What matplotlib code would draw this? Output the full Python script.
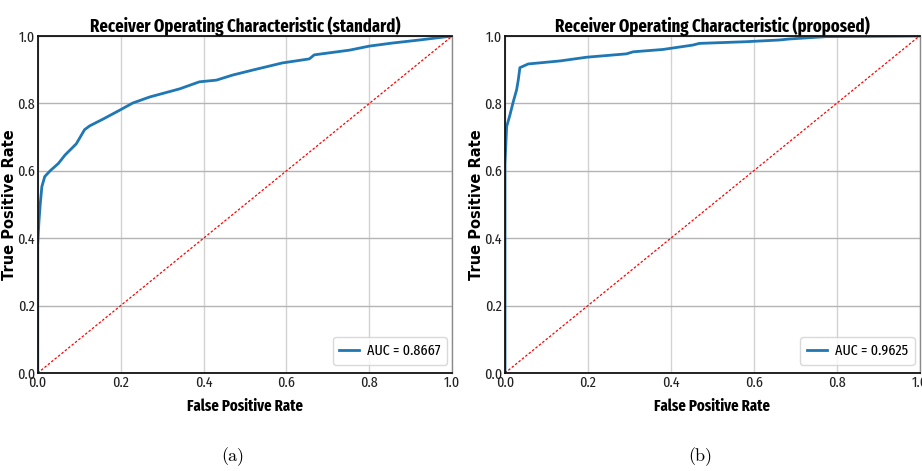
import matplotlib
matplotlib.use("Agg")
import matplotlib.pyplot as plt
from matplotlib import font_manager


# ---------------------------------------------------------------------------
# datos
# ---------------------------------------------------------------------------
fpr_standard = [0.0, 0.0, 0.003, 0.006, 0.010, 0.017, 0.030, 0.050, 0.066,
                0.093, 0.113, 0.125, 0.160, 0.198, 0.229, 0.270, 0.342,
                0.390, 0.431, 0.470, 0.519, 0.590, 0.655, 0.667, 0.752,
                0.800, 0.855, 0.920, 1.0]
tpr_standard = [0.0, 0.38, 0.45, 0.50, 0.553, 0.583, 0.600, 0.622, 0.647,
                0.680, 0.722, 0.733, 0.755, 0.780, 0.801, 0.819, 0.843,
                0.864, 0.869, 0.884, 0.899, 0.920, 0.932, 0.944, 0.958,
                0.970, 0.979, 0.988, 1.0]

fpr_proposed = [0.0, 0.0, 0.004, 0.012, 0.020, 0.028, 0.032, 0.036, 0.056,
                0.133, 0.197, 0.293, 0.309, 0.381, 0.453, 0.469, 0.581,
                0.661, 0.685, 0.773, 1.0]
tpr_proposed = [0.0, 0.62, 0.731, 0.766, 0.805, 0.840, 0.869, 0.906, 0.917,
                0.926, 0.937, 0.947, 0.953, 0.960, 0.973, 0.978, 0.983,
                0.988, 0.991, 0.998, 1.0]

auc_standard = 0.8667
auc_proposed = 0.9625
titles = ["Receiver Operating Characteristic (standard)",
          "Receiver Operating Characteristic (proposed)"]
captions = ["(a)", "(b)"]
ticks = [0.0, 0.2, 0.4, 0.6, 0.8, 1.0]


# ---------------------------------------------------------------------------
# fuentes: la figura original esta comprimida en horizontal,
# asi que uso una fuente estrecha para el texto horizontal
# ---------------------------------------------------------------------------
names = {f.name for f in font_manager.fontManager.ttflist}


def pick(options, default="DejaVu Sans"):
    for name in options:
        if name in names:
            return name
    return default


narrow = pick(["Fira Sans Extra Condensed", "Roboto Condensed",
               "Archivo Narrow", "PT Sans Narrow"])
caption_font = pick(["cmr10", "DejaVu Serif"])


# ---------------------------------------------------------------------------
# figura
# ---------------------------------------------------------------------------
fig = plt.figure(figsize=(9.22, 4.71), dpi=100)
ax1 = fig.add_axes([0.0409, 0.208, 0.4497, 0.7156])
ax2 = fig.add_axes([0.5477, 0.208, 0.4496, 0.7156])

data = [(fpr_standard, tpr_standard, auc_standard),
        (fpr_proposed, tpr_proposed, auc_proposed)]

for ax, (fpr, tpr, auc), title, cap in zip([ax1, ax2], data, titles, captions):
    ax.plot(fpr, tpr, color="#1f77b4", lw=2, label="AUC = %.4f" % auc)
    ax.plot([0, 1], [0, 1], "r--", lw=0.9, dashes=(2, 1.5))
    ax.set_xlim(0, 1)
    ax.set_ylim(0, 1)
    ax.set_xticks(ticks)
    ax.set_yticks(ticks)
    ax.set_xticklabels(["%.1f" % t for t in ticks], fontsize=11, family=narrow)
    ax.set_yticklabels(["%.1f" % t for t in ticks], fontsize=11, family=narrow)
    ax.tick_params(length=0, pad=2, colors="#222222")
    ax.grid(axis="x", color="#d2d2d2", lw=1)
    ax.grid(axis="y", color="#b4b4b4", lw=1)
    ax.set_axisbelow(True)
    for side in ["left", "bottom", "top"]:
        ax.spines[side].set_color("#111111")
        ax.spines[side].set_linewidth(1.3)
    ax.spines["right"].set_color("#8a8a8a")
    ax.spines["right"].set_linewidth(1.0)

    t = ax.set_title(title, fontsize=13, fontweight="bold", family=narrow)
    t.set_position((0.5, 1.059))
    t.set_va("center")

    ax.set_xlabel("False Positive Rate", fontsize=11.5, fontweight="bold",
                  family=narrow, va="center")
    ax.xaxis.set_label_coords(0.5, -0.098)
    ax.set_ylabel("True Positive Rate", fontsize=10.5, fontweight="heavy",
                  family="DejaVu Sans", va="center")
    ax.yaxis.set_label_coords(-0.068, 0.5)

    leg = ax.legend(loc="lower right", bbox_to_anchor=(0.988, 0.024),
                    borderaxespad=0, prop=dict(size=11, family=narrow),
                    handlelength=1.3, handletextpad=0.5, borderpad=0.45,
                    fancybox=True)
    leg.get_frame().set_edgecolor("#d0d0d0")
    ax.text(0.47, -0.249, cap, transform=ax.transAxes, ha="center",
            va="center", fontsize=13, family=caption_font)

fig.savefig("out.png", dpi=100)
